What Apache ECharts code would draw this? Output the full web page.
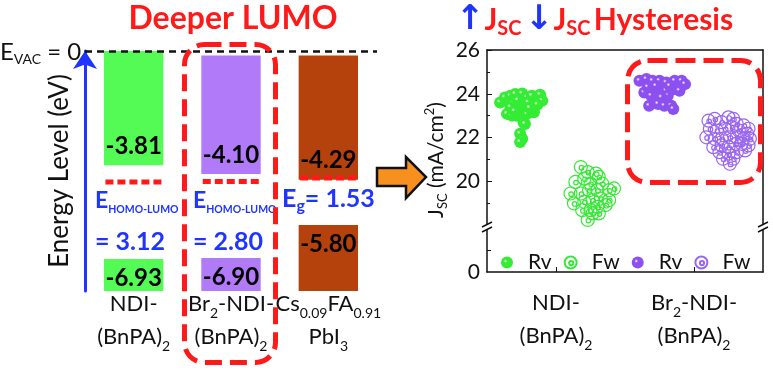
<!DOCTYPE html>
<html>
<head>
<meta charset="utf-8">
<script src="https://cdn.jsdelivr.net/npm/echarts@6/dist/echarts.min.js"></script>
<style>
html, body { margin: 0; padding: 0; background: #fff; }
#main { width: 773px; height: 370px; }
</style>
</head>
<body>
<div id="main"></div>
<script>
// energy levels (eV)
var materialLabels = [
    '{a|NDI-}\n{a|(BnPA)}{s|2}',
    '{a|Br}{s|2}{a|-NDI-}\n{a|(BnPA)}{s|2}',
    '{a|Cs}{s|0.09}{a|FA}{s|0.91}\n{a|PbI}{s|3}'
];
var lumoTops = [0, -0.15, -0.15];
var lumoLevels = [-3.81, -4.10, -4.29];
var homoLevels = [-6.93, -6.90, -5.80];
var redDotLevels = [-4.37, -4.35, -4.23];
var energyMin = -8;

// Jsc scatter (x = jitter position, y = mA/cm2)
var ndiRv = [[0.19,23.60],[0.26,23.83],[0.34,23.91],[0.41,23.99],[0.51,24.01],[0.58,23.83],[0.65,23.91],[0.77,23.95],[0.80,23.68],[0.73,23.50],[0.68,23.15],[0.58,23.08],[0.51,23.38],[0.43,23.45],[0.34,23.38],[0.29,23.08],[0.36,23.00],[0.43,23.00],[0.53,22.70],[0.55,22.62],[0.48,22.17],[0.51,21.94],[0.48,21.79],[0.45,23.70],[0.60,23.60],[0.40,23.20],[0.62,23.35]];
var ndiFw = [[1.36,20.65],[1.46,20.42],[1.58,20.35],[1.62,20.20],[1.41,20.12],[1.28,19.97],[1.50,19.89],[1.67,19.89],[1.21,19.44],[1.36,19.44],[1.48,19.59],[1.60,19.59],[1.77,19.59],[1.84,19.67],[1.26,18.99],[1.41,19.06],[1.53,19.14],[1.65,19.21],[1.77,19.14],[1.38,18.68],[1.50,18.68],[1.60,18.83],[1.72,18.91],[1.53,18.53],[1.62,18.53],[1.46,18.23]];
var brRv = [[2.21,24.59],[2.31,24.67],[2.40,24.59],[2.50,24.59],[2.60,24.51],[2.72,24.59],[2.82,24.59],[2.87,24.44],[2.28,24.06],[2.38,23.91],[2.50,24.14],[2.60,24.14],[2.70,24.21],[2.79,24.14],[2.62,23.91],[2.53,23.83],[2.35,23.45],[2.48,23.53],[2.57,23.45],[2.67,23.45],[2.70,23.30],[2.45,24.35],[2.65,24.35],[2.33,24.30]];
var brFw = [[3.21,22.77],[3.30,22.85],[3.40,22.70],[3.50,22.92],[3.57,22.85],[3.62,22.62],[3.72,22.55],[3.79,22.40],[3.23,22.40],[3.33,22.32],[3.45,22.40],[3.55,22.47],[3.65,22.32],[3.77,22.17],[3.18,22.01],[3.30,21.94],[3.40,21.94],[3.52,22.01],[3.62,22.01],[3.72,21.94],[3.81,21.94],[3.28,21.56],[3.40,21.64],[3.50,21.56],[3.60,21.71],[3.69,21.71],[3.79,21.64],[3.37,21.33],[3.50,21.26],[3.62,21.33],[3.74,21.41],[3.42,21.03],[3.57,21.03],[3.52,20.80]];
var jscTicks = [20, 22, 24, 26];
var deviceTicks = [1, 3];
var deviceLabels = ['{a|NDI-}\n{a|(BnPA)}{s|2}', '{a|Br}{s|2}{a|-NDI-}\n{a|(BnPA)}{s|2}'];

var FONT = 'Lato, "Open Sans", sans-serif';
var RED = '#ff1a1a';
var BLUE = '#1f35ff';
var barColors = ['#55fb55', '#b07af8', '#b5410c'];

var labelRich = {
    a: { fontSize: 22, fontFamily: FONT, color: '#111', lineHeight: 33 },
    s: { fontSize: 14, fontFamily: FONT, color: '#111', lineHeight: 14, verticalAlign: 'bottom' }
};

var levelData = [];
for (var i = 0; i < lumoLevels.length; i++) {
    levelData.push([i, lumoTops[i], lumoLevels[i], 0]);
    levelData.push([i, homoLevels[i], energyMin, 1]);
}
var dotData = redDotLevels.map(function (v, i) { return [i, v]; });

function renderLevel(params, api) {
    var idx = api.value(0);
    var kind = api.value(3);
    var top = api.coord([idx, api.value(1)]);
    var bot = api.coord([idx, api.value(2)]);
    var w = api.size([1, 0])[0] * 0.61;
    var val = kind === 0 ? api.value(2) : api.value(1);
    var ty = kind === 0 ? bot[1] - 19 : top[1] + 19;
    return {
        type: 'group',
        children: [
            { type: 'rect', shape: { x: top[0] - w / 2, y: top[1], width: w, height: bot[1] - top[1] },
              style: { fill: barColors[idx] } },
            { type: 'text', x: top[0], y: ty,
              style: { text: val.toFixed(2), align: 'center', verticalAlign: 'middle', fill: '#000',
                       font: 'bold 24px ' + FONT } }
        ]
    };
}

function renderDots(params, api) {
    var p = api.coord([api.value(0), api.value(1)]);
    var w = api.size([1, 0])[0] * 0.58;
    return {
        type: 'line',
        shape: { x1: p[0] - w / 2, y1: p[1], x2: p[0] + w / 2, y2: p[1] },
        style: { stroke: RED, lineWidth: 5, lineDash: [8, 4] }
    };
}

function sphere(c) {
    return { type: 'radial', x: 0.38, y: 0.38, r: 0.7,
        colorStops: [{ offset: 0, color: '#ffffff' }, { offset: 0.22, color: c }, { offset: 1, color: c }] };
}
var ringPath = 'path://M0,10a10,10 0 1,0 20,0a10,10 0 1,0 -20,0zM7.5,11a3.5,3.5 0 1,0 7,0a3.5,3.5 0 1,0 -7,0z';

var myChart = echarts.init(document.getElementById('main'), null, { renderer: 'canvas' });

var option = {
    animation: false,
    grid: [
        { left: 85, width: 292, top: 51, height: 240, outerBoundsMode: 'none' },
        { left: 487, right: 10, top: 50, height: 175, outerBoundsMode: 'none' },
        { left: 487, right: 10, top: 229, height: 43, outerBoundsMode: 'none' }
    ],
    xAxis: [
        { gridIndex: 0, type: 'category', data: materialLabels,
          axisLine: { show: false, onZero: false }, axisTick: { show: false },
          axisLabel: { interval: 0, margin: -4, lineHeight: 33, rich: labelRich, formatter: function (v) { return v; } } },
        { gridIndex: 1, type: 'value', min: 0, max: 4, position: 'top',
          axisLine: { show: true, onZero: false, lineStyle: { color: '#111', width: 1.5 } },
          axisTick: { show: false }, axisLabel: { show: false }, splitLine: { show: false } },
        { gridIndex: 2, type: 'value', min: 0, max: 4, position: 'bottom',
          axisLine: { show: true, onZero: false, lineStyle: { color: '#111', width: 1.5 } },
          axisTick: { show: true, inside: true, length: 5, customValues: deviceTicks, lineStyle: { color: '#111' } },
          axisLabel: { customValues: deviceTicks, margin: 14, lineHeight: 33, rich: labelRich,
              formatter: function (v) { return deviceLabels[(v - 1) / 2]; } },
          splitLine: { show: false } }
    ],
    yAxis: [
        { gridIndex: 0, type: 'value', min: energyMin, max: 0,
          axisLine: { show: true, onZero: false, symbol: ['none', 'arrow'], symbolSize: [18, 18],
              lineStyle: { color: BLUE, width: 3 } },
          axisTick: { show: false }, axisLabel: { show: false }, splitLine: { show: false },
          name: 'Energy Level (eV)', nameLocation: 'middle', nameGap: 12,
          nameTextStyle: { fontSize: 26, fontFamily: FONT, color: '#111' } },
        { gridIndex: 1, type: 'value', min: 18, max: 26, interval: 2,
          axisLine: { show: true, onZero: false, lineStyle: { color: '#111', width: 1.5 } },
          axisTick: { show: true, inside: true, length: 5, customValues: jscTicks, lineStyle: { color: '#111' } },
          minorTick: { show: true, splitNumber: 2, length: 3, lineStyle: { color: '#111' } },
          axisLabel: { customValues: jscTicks, margin: 7, fontSize: 21, fontFamily: FONT, color: '#111' },
          splitLine: { show: false } },
        { gridIndex: 1, type: 'value', min: 0, max: 1, position: 'right',
          axisLine: { show: true, onZero: false, lineStyle: { color: '#111', width: 1.5 } },
          axisTick: { show: false }, axisLabel: { show: false }, splitLine: { show: false } },
        { gridIndex: 2, type: 'value', min: 0, max: 2, interval: 1,
          axisLine: { show: true, onZero: false, lineStyle: { color: '#111', width: 1.5 } },
          axisTick: { show: true, inside: true, length: 4, customValues: [1], lineStyle: { color: '#111' } },
          axisLabel: { customValues: [0], margin: 7, fontSize: 21, fontFamily: FONT, color: '#111' },
          splitLine: { show: false } },
        { gridIndex: 2, type: 'value', min: 0, max: 1, position: 'right',
          axisLine: { show: true, onZero: false, lineStyle: { color: '#111', width: 1.5 } },
          axisTick: { show: false }, axisLabel: { show: false }, splitLine: { show: false } }
    ],
    legend: {
        left: 496, top: 247, itemWidth: 12, itemHeight: 12, itemGap: 12, selectedMode: false,
        data: ['NDI Rv', 'NDI Fw', 'Br Rv', 'Br Fw'],
        formatter: function (n) { return n.split(' ')[1]; },
        textStyle: { fontSize: 21, fontFamily: FONT, color: '#111', padding: [0, 0, 0, 10] }
    },
    series: [
        { type: 'custom', xAxisIndex: 0, yAxisIndex: 0, renderItem: renderLevel, data: levelData,
          markLine: { silent: true, symbol: 'none', label: { show: false },
              lineStyle: { color: '#111', type: [7, 5], width: 2.5 }, data: [{ yAxis: 0 }] } },
        { type: 'custom', xAxisIndex: 0, yAxisIndex: 0, renderItem: renderDots, data: dotData, z: 3 },
        { name: 'NDI Rv', type: 'scatter', xAxisIndex: 1, yAxisIndex: 1, data: ndiRv, symbolSize: 12,
          itemStyle: { color: sphere('#33ec33'), opacity: 1 } },
        { name: 'NDI Fw', type: 'scatter', xAxisIndex: 1, yAxisIndex: 1, data: ndiFw, symbol: ringPath, symbolSize: 13,
          itemStyle: { color: 'rgba(255,255,255,0)', borderColor: '#36e836', borderWidth: 1.2, opacity: 1 } },
        { name: 'Br Rv', type: 'scatter', xAxisIndex: 1, yAxisIndex: 1, data: brRv, symbolSize: 12,
          itemStyle: { color: sphere('#8c50f0'), opacity: 1 } },
        { name: 'Br Fw', type: 'scatter', xAxisIndex: 1, yAxisIndex: 1, data: brFw, symbol: ringPath, symbolSize: 13,
          itemStyle: { color: 'rgba(255,255,255,0)', borderColor: '#9a66f0', borderWidth: 1.2, opacity: 1 } }
    ],
    graphic: [
        { type: 'text', x: 233, y: 19, z: 10,
          style: { text: 'Deeper LUMO', font: 'bold 32px ' + FONT, fill: RED, align: 'center', verticalAlign: 'middle' } },
        { type: 'text', x: 456, y: 20, z: 10,
          style: { text: '{ar|↑}{j|J}{s|SC} {ar|↓}{j|J}{s|SC} {j|Hysteresis}', verticalAlign: 'middle',
              rich: {
                  ar: { fontSize: 34, fontWeight: 'bold', fontFamily: '"DejaVu Sans"', fill: BLUE, lineHeight: 38 },
                  j: { fontSize: 30, fontWeight: 'bold', fontFamily: FONT, fill: RED, lineHeight: 38 },
                  s: { fontSize: 20, fontWeight: 'bold', fontFamily: FONT, fill: RED, lineHeight: 20, verticalAlign: 'bottom' }
              } } },
        { type: 'text', x: 0, y: 52, z: 10,
          style: { text: '{e|E}{s|VAC}{e| = 0}', verticalAlign: 'middle',
              rich: {
                  e: { fontSize: 24, fontFamily: FONT, fill: '#111', lineHeight: 28 },
                  s: { fontSize: 14, fontFamily: FONT, fill: '#111', lineHeight: 14, verticalAlign: 'bottom' }
              } } },
        { type: 'text', x: 95, y: 201, z: 10,
          style: { text: '{e|E}{s|HOMO-LUMO}', verticalAlign: 'middle',
              rich: {
                  e: { fontSize: 23, fontWeight: 'bold', fontFamily: FONT, fill: BLUE, lineHeight: 28 },
                  s: { fontSize: 10.5, fontWeight: 'bold', fontFamily: FONT, fill: BLUE, lineHeight: 10, verticalAlign: 'bottom' }
              } } },
        { type: 'text', x: 95, y: 242, z: 10,
          style: { text: '= 3.12', font: 'bold 25px ' + FONT, fill: BLUE, verticalAlign: 'middle' } },
        { type: 'text', x: 193, y: 201, z: 10,
          style: { text: '{e|E}{s|HOMO-LUMO}', verticalAlign: 'middle',
              rich: {
                  e: { fontSize: 23, fontWeight: 'bold', fontFamily: FONT, fill: BLUE, lineHeight: 28 },
                  s: { fontSize: 10.5, fontWeight: 'bold', fontFamily: FONT, fill: BLUE, lineHeight: 10, verticalAlign: 'bottom' }
              } } },
        { type: 'text', x: 193, y: 242, z: 10,
          style: { text: '= 2.80', font: 'bold 25px ' + FONT, fill: BLUE, verticalAlign: 'middle' } },
        { type: 'text', x: 282, y: 199, z: 10,
          style: { text: '{e|E}{s|g}{e|= 1.53}', verticalAlign: 'middle',
              rich: {
                  e: { fontSize: 25, fontWeight: 'bold', fontFamily: FONT, fill: BLUE, lineHeight: 30 },
                  s: { fontSize: 16, fontWeight: 'bold', fontFamily: FONT, fill: BLUE, lineHeight: 16, verticalAlign: 'bottom' }
              } } },
        { type: 'text', x: 436, y: 160, rotation: Math.PI / 2, z: 10,
          style: { text: '{j|J}{s|SC}{j| (mA/cm}{p|2}{j|)}', align: 'center', verticalAlign: 'middle',
              rich: {
                  j: { fontSize: 21, fontFamily: FONT, fill: '#111', lineHeight: 26 },
                  s: { fontSize: 13, fontFamily: FONT, fill: '#111', lineHeight: 13, verticalAlign: 'bottom' },
                  p: { fontSize: 13, fontFamily: FONT, fill: '#111', lineHeight: 13, verticalAlign: 'top' }
              } } },
        { type: 'rect', z: 20, shape: { x: 184.5, y: 44.5, width: 91, height: 318, r: 20 },
          style: { fill: 'none', stroke: RED, lineWidth: 5, lineDash: [17, 8] } },
        { type: 'rect', z: 20, shape: { x: 627.5, y: 60.5, width: 133, height: 122, r: 20 },
          style: { fill: 'none', stroke: RED, lineWidth: 5, lineDash: [20, 8] } },
        { type: 'polygon', z: 20,
          shape: { points: [[377, 168], [406, 168], [406, 157], [426, 177], [406, 198], [406, 186], [377, 186]] },
          style: { fill: '#f7901e', stroke: '#111', lineWidth: 2.5 } },
        { type: 'rect', z: 20, shape: { x: 482, y: 224, width: 10, height: 6 }, style: { fill: '#fff' } },
        { type: 'rect', z: 20, shape: { x: 758, y: 224, width: 10, height: 6 }, style: { fill: '#fff' } },
        { type: 'line', z: 21, shape: { x1: 482, y1: 227, x2: 492, y2: 222 }, style: { stroke: '#111', lineWidth: 1.5 } },
        { type: 'line', z: 21, shape: { x1: 482, y1: 232, x2: 492, y2: 227 }, style: { stroke: '#111', lineWidth: 1.5 } },
        { type: 'line', z: 21, shape: { x1: 758, y1: 227, x2: 768, y2: 222 }, style: { stroke: '#111', lineWidth: 1.5 } },
        { type: 'line', z: 21, shape: { x1: 758, y1: 232, x2: 768, y2: 227 }, style: { stroke: '#111', lineWidth: 1.5 } }
    ]
};

myChart.setOption(option);
</script>
</body>
</html>
